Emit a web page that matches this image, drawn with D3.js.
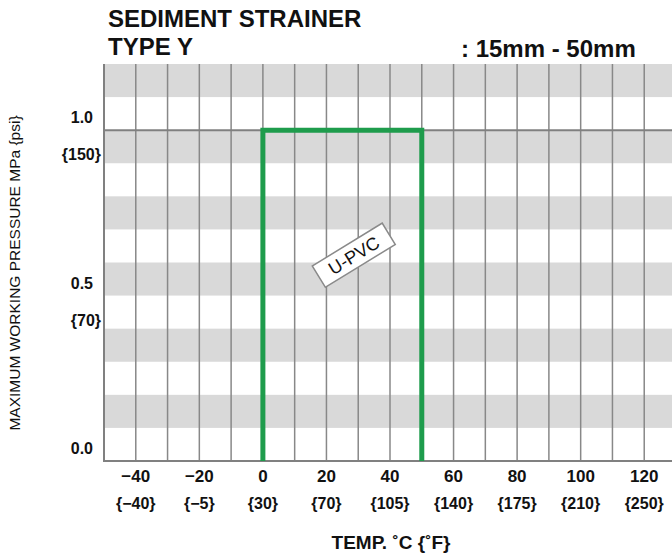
<!DOCTYPE html>
<html><head><meta charset="utf-8">
<script src="https://cdn.jsdelivr.net/npm/d3@7"></script>
<style>
html,body{margin:0;padding:0;background:#fff;}
svg{display:block;}
text{font-family:"Liberation Sans",Arial,sans-serif;fill:#111;}
</style></head>
<body>
<script>
const tempTicksC = [-40, -20, 0, 20, 40, 60, 80, 100, 120];
const tempTicksF = ["−40", "−5", "30", "70", "105", "140", "175", "210", "250"];
const pressTicks = [1.0, 0.5, 0.0];
const pressTicksPsi = ["150", "70", ""];
const seriesTemp = [0, 0, 50, 50];
const seriesPress = [0, 1.0, 1.0, 0];
const seriesName = "U-PVC";
const bandStarts = [0.1, 0.3, 0.5, 0.7, 0.9, 1.1];

const W = 672, H = 559;
const svg = d3.select("body").append("svg").attr("width", W).attr("height", H);

const x = d3.scaleLinear().domain([-50, 130]).range([104, 676]);
const y = d3.scaleLinear().domain([0, 1.2]).range([461, 64]);

svg.append("clipPath").attr("id", "c").append("rect")
  .attr("x", 104).attr("y", 64).attr("width", W - 104).attr("height", 461 - 64);
const g = svg.append("g").attr("clip-path", "url(#c)");

// bands
g.selectAll("rect.band").data(bandStarts).join("rect").attr("class", "band")
  .attr("x", 104).attr("width", W - 104)
  .attr("y", d => y(d + 0.1)).attr("height", d => y(d) - y(d + 0.1))
  .attr("fill", "#d9d9d9");

// vertical grid
const vgrid = d3.range(-40, 131, 10);
g.selectAll("line.v").data(vgrid).join("line").attr("class", "v")
  .attr("x1", d => x(d)).attr("x2", d => x(d)).attr("y1", 64).attr("y2", 461)
  .attr("stroke", "#888").attr("stroke-width", 1.5);

// line at 1.0
g.append("line").attr("x1", 104).attr("x2", W).attr("y1", y(1.0)).attr("y2", y(1.0))
  .attr("stroke", "#808080").attr("stroke-width", 2);

// axes lines
svg.append("line").attr("x1", 104).attr("x2", 104).attr("y1", 64).attr("y2", 462)
  .attr("stroke", "#808080").attr("stroke-width", 2);
svg.append("line").attr("x1", 103).attr("x2", W).attr("y1", 461).attr("y2", 461)
  .attr("stroke", "#808080").attr("stroke-width", 2);

// series
const pts = seriesTemp.map((t, i) => [x(t), y(seriesPress[i])]);
svg.append("path").attr("d", d3.line()(pts)).attr("fill", "none")
  .attr("stroke", "#1e9c4c").attr("stroke-width", 5).attr("stroke-linejoin", "miter");

// series label
const lab = svg.append("g").attr("transform", `translate(${x(28.6)},${y(0.622)}) rotate(-31.5)`);
lab.append("rect").attr("x", -41).attr("y", -12.5).attr("width", 82).attr("height", 25)
  .attr("fill", "#fff").attr("stroke", "#8a8a8a").attr("stroke-width", 1.5);
lab.append("text").attr("text-anchor", "middle").attr("dy", "0.36em")
  .attr("font-size", 18).attr("fill", "#333").text(seriesName);

// x tick labels
svg.selectAll("text.xc").data(tempTicksC).join("text").attr("class", "xc")
  .attr("x", d => x(d)).attr("y", 482).attr("text-anchor", "middle")
  .attr("font-size", 17).attr("font-weight", "bold")
  .text(d => d < 0 ? "−" + Math.abs(d) : d);
svg.selectAll("text.xf").data(tempTicksF).join("text").attr("class", "xf")
  .attr("x", (d, i) => x(tempTicksC[i])).attr("y", 509).attr("text-anchor", "middle")
  .attr("font-size", 16).attr("font-weight", "bold")
  .text(d => "{" + d + "}");

// y tick labels
svg.selectAll("text.yt").data(pressTicks).join("text").attr("class", "yt")
  .attr("x", 93).attr("y", d => y(d) - 7).attr("text-anchor", "end")
  .attr("font-size", 16).attr("font-weight", "bold")
  .text(d => d.toFixed(1));
svg.selectAll("text.yp").data(pressTicks.filter((d, i) => pressTicksPsi[i])).join("text").attr("class", "yp")
  .attr("x", 101).attr("y", d => y(d) + 30).attr("text-anchor", "end")
  .attr("font-size", 16).attr("font-weight", "bold")
  .text((d, i) => "{" + pressTicksPsi[i] + "}");

// axis titles
svg.append("text").attr("x", 391).attr("y", 549).attr("text-anchor", "middle")
  .attr("font-size", 19).attr("font-weight", "bold").text("TEMP. ˚C {˚F}");
svg.append("text").attr("transform", "translate(20,273) rotate(-90)").attr("text-anchor", "middle")
  .attr("font-size", 15.5).text("MAXIMUM WORKING PRESSURE  MPa {psi}");

// titles
svg.append("text").attr("x", 108).attr("y", 27).attr("font-size", 24).attr("font-weight", "bold")
  .text("SEDIMENT STRAINER");
svg.append("text").attr("x", 108).attr("y", 55).attr("font-size", 24).attr("font-weight", "bold")
  .text("TYPE Y");
svg.append("text").attr("x", 461).attr("y", 57).attr("font-size", 24).attr("font-weight", "bold")
  .text(": 15mm - 50mm");
</script>
</body></html>
